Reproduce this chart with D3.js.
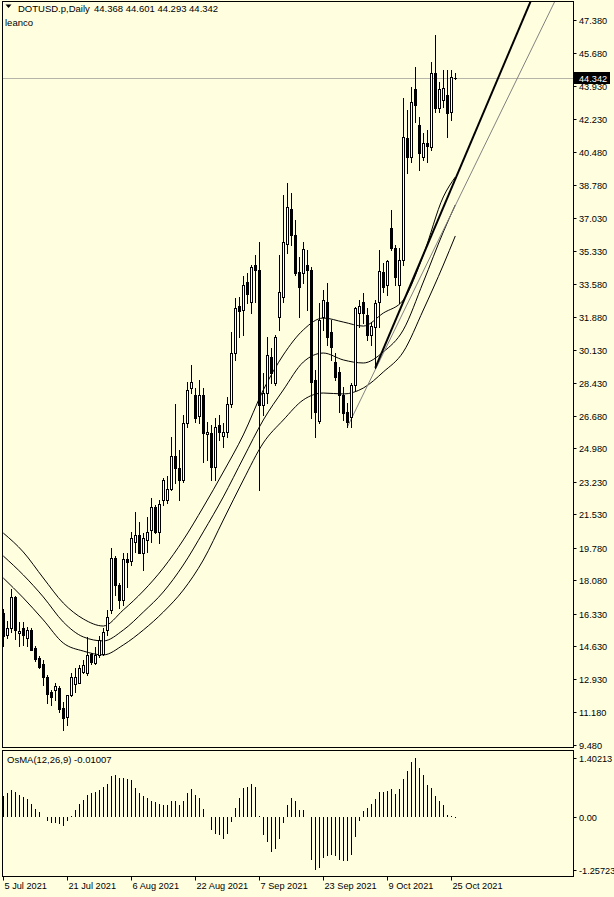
<!DOCTYPE html>
<html><head><meta charset="utf-8">
<script src="https://cdn.jsdelivr.net/npm/d3@7"></script>
<style>
html,body{margin:0;padding:0;background:#FFFFE0;}
svg{display:block;}
text{font-family:"Liberation Sans",Arial,sans-serif;fill:#000;}
</style></head><body>
<div id="chart"></div>
<script>
// ---------- DATA ----------
const title = "DOTUSD.p,Daily";
const lastQuote = "44.368 44.601 44.293 44.342";
const subTitle = "leanco";
const oscTitle = "OsMA(12,26,9) -0.01007";

const open = [16.38,15.23,15.60,17.22,15.34,15.60,15.07,15.49,14.55,14.03,
13.71,13.03,12.25,12.35,12.46,11.41,10.94,12.09,12.67,12.72,
13.30,13.24,14.24,13.77,14.19,14.24,15.49,16.54,19.26,17.85,
17.06,19.20,19.10,20.09,20.46,19.52,20.20,20.72,21.92,20.62,
22.29,22.29,22.86,24.59,23.96,23.33,26.31,28.14,27.78,26.68,
27.78,25.74,25.79,24.01,26.21,25.63,25.84,27.31,29.97,32.43,
32.22,33.68,32.64,34.57,34.31,27.25,27.88,29.76,28.40,31.85,
32.90,35.67,37.50,36.14,34.21,34.15,34.57,34.31,28.56,26.42,
31.85,32.64,31.07,29.50,28.98,27.78,26.89,26.63,28.30,32.06,
32.64,31.96,30.91,31.33,32.64,34.21,33.53,36.51,35.46,33.53,
34.83,41.21,40.22,43.77,41.89,40.22,40.95,40.74,44.61,42.78,
43.20,43.46,42.57,44.368];
const high = [16.59,15.96,17.64,17.27,15.91,15.91,15.65,15.60,14.66,14.13,
13.92,13.14,12.35,12.72,12.56,11.73,12.09,13.24,13.51,13.66,
13.92,15.13,14.29,14.60,15.18,15.60,16.54,19.78,19.36,17.95,
19.52,19.52,20.62,21.66,21.14,20.56,21.40,22.39,22.03,22.29,
23.44,23.54,25.58,27.31,24.90,26.73,28.46,29.35,28.14,28.56,
28.14,26.37,26.21,26.58,26.73,26.31,27.67,31.07,32.85,32.90,
34.00,34.15,34.57,35.10,35.78,28.93,30.81,30.23,30.91,35.10,
38.23,38.86,38.34,36.93,34.99,35.78,35.36,34.47,29.08,32.59,
33.27,33.63,31.70,29.97,29.24,28.20,27.36,28.40,32.38,32.74,
33.11,32.33,31.59,32.74,35.36,34.68,34.83,37.45,35.62,35.46,
43.30,42.68,43.88,44.92,42.31,41.47,41.63,45.19,46.60,44.14,
44.77,44.77,44.77,44.601];
const low = [14.66,15.07,15.39,15.02,14.66,14.71,14.66,14.45,13.87,13.51,
12.62,11.67,11.57,11.83,11.20,10.26,10.52,12.04,12.25,12.72,
13.24,13.14,13.71,13.71,14.08,14.19,15.23,16.38,17.32,16.64,
16.80,17.74,18.89,19.57,19.52,18.63,19.57,20.09,20.56,20.04,
22.03,22.13,22.81,23.18,22.29,23.23,26.10,27.88,26.37,26.31,
24.27,24.38,23.33,23.33,25.43,25.06,25.58,27.15,29.61,30.81,
30.91,32.59,32.06,32.64,22.81,26.73,27.36,28.40,28.30,31.18,
32.64,35.20,35.62,34.05,31.85,33.63,32.22,26.58,25.58,26.31,
31.18,30.39,29.61,28.56,26.89,26.47,26.10,26.10,28.04,31.33,
31.54,30.65,30.39,29.19,31.33,33.16,33.00,35.36,33.53,32.59,
34.57,39.38,39.96,42.05,39.54,40.05,39.96,40.58,42.57,42.57,
42.83,41.26,42.15,44.293];
const close = [15.18,15.60,17.22,15.49,15.44,15.23,15.49,14.45,13.98,13.56,
13.03,12.15,11.99,12.56,11.36,10.89,12.09,13.03,13.03,13.51,
13.66,14.19,13.82,14.19,14.97,15.39,16.17,19.26,17.85,17.06,
19.20,19.05,20.30,20.46,19.52,20.30,20.62,21.92,20.62,22.08,
23.33,22.86,24.59,23.96,23.33,26.31,28.04,28.46,26.58,27.78,
25.79,25.84,24.01,26.10,25.84,25.84,27.31,29.97,32.33,32.17,
33.53,33.06,34.47,34.31,27.25,27.88,29.87,28.93,30.81,33.16,
35.78,37.61,36.14,34.15,33.42,35.41,34.31,28.46,26.89,31.70,
32.74,30.81,30.29,28.72,27.78,26.84,26.37,28.30,32.33,32.43,
32.06,30.91,31.38,32.59,34.26,33.42,34.78,35.46,33.95,34.83,
41.26,40.22,43.09,42.94,40.43,40.95,40.79,44.61,42.78,43.77,
43.83,42.52,44.40,44.342];

const osma = [0.51,0.57,0.65,0.61,0.54,0.48,0.43,0.32,0.20,0.12,
0.01,-0.08,-0.13,-0.13,-0.17,-0.21,-0.09,0.04,0.16,0.31,
0.42,0.54,0.57,0.60,0.65,0.71,0.79,0.99,1.01,0.93,
0.93,0.91,0.89,0.69,0.57,0.51,0.46,0.38,0.36,0.31,
0.30,0.30,0.39,0.39,0.28,0.39,0.57,0.68,0.54,0.46,
0.20,0.00,-0.31,-0.39,-0.42,-0.51,-0.41,-0.12,0.22,0.46,
0.69,0.73,0.79,0.73,0.02,-0.43,-0.59,-0.83,-0.76,-0.53,
-0.15,0.28,0.46,0.38,0.18,0.16,0.01,-1.02,-1.25723,-1.20,
-0.98,-0.92,-0.90,-0.92,-1.01,-1.04,-1.04,-0.90,-0.47,-0.09,
0.14,0.22,0.32,0.44,0.60,0.61,0.63,0.67,0.56,0.68,
0.91,1.09,1.31,1.40213,1.16,1.01,0.76,0.69,0.50,0.39,
0.28,0.06,0.02,-0.01007];

// channel lines, read at these bar indices
const bandIdx   = [0,5,10,15,20,25,30,35,40,45,50,55,60,65,70,75,80,85,90,95,100,105,110,113];
const bandUpper = [20.56,19.57,18.21,16.90,16.07,15.70,16.54,17.53,18.73,20.20,21.92,23.75,25.69,28.04,29.87,31.18,31.80,31.59,31.38,32.06,32.74,35.10,38.13,39.17];
const bandMid   = [19.36,18.37,17.22,15.91,15.13,14.92,15.49,16.43,17.48,18.89,20.62,22.45,24.48,26.47,28.04,29.50,29.97,29.61,29.45,30.03,31.18,33.68,36.30,37.71];
const bandLower = [18.21,17.17,16.02,14.81,14.39,14.19,14.71,15.49,16.43,17.58,19.15,21.24,23.33,25.27,26.47,27.52,27.88,27.83,28.14,28.98,30.03,32.22,34.57,36.09];

// trend lines: [bar index, price]
const trendThick = [[93,29.19],[130,47.45]];
const trendGray  = [[86,26.10],[135,47.12]];

const priceTicks = [47.38,45.68,43.93,42.23,40.48,38.78,37.03,35.33,33.58,31.88,30.13,28.43,26.68,24.98,23.23,21.53,19.78,18.08,16.33,14.63,12.93,11.18,9.48];
const currentPrice = 44.342;
const osmaTicks = [1.40213,0,-1.25723];
const osmaTickLabels = ["1.40213","0.00","-1.25723"];
const dateTickIdx = [0,16,32,48,64,80,96,112];
const dateTickLabels = ["5 Jul 2021","21 Jul 2021","6 Aug 2021","22 Aug 2021","7 Sep 2021","23 Sep 2021","9 Oct 2021","25 Oct 2021"];

// ---------- DRAW ----------
const W = 614, H = 897;
const svg = d3.select("#chart").append("svg").attr("width", W).attr("height", H);
svg.append("rect").attr("width", W).attr("height", H).attr("fill", "#FFFFE0");

const n = open.length;
const x = d3.scaleLinear().domain([0, 113]).range([3.3, 455.3]);
const y = d3.scaleLinear().domain([9.48, 47.38]).range([745, 20]);
const yo = d3.scaleLinear().domain([-1.25723, 1.40213]).range([870, 758.3]);
const xc = i => Math.round(x(i)) + 0.5;
const px = v => Math.round(v);

const mainL = 2.5, mainR = 573.5, mainT = 1.5, mainB = 747.5;
const oscT = 750.5, oscB = 876.5;

const defs = svg.append("defs");
defs.append("clipPath").attr("id", "clipMain").append("rect")
  .attr("x", mainL + 0.5).attr("y", mainT + 0.5).attr("width", mainR - mainL - 1).attr("height", mainB - mainT - 1);
defs.append("clipPath").attr("id", "clipOsc").append("rect")
  .attr("x", mainL + 0.5).attr("y", oscT + 0.5).attr("width", mainR - mainL - 1).attr("height", oscB - oscT - 1);

const gMain = svg.append("g").attr("clip-path", "url(#clipMain)");

// current price line
gMain.append("line").attr("x1", mainL).attr("x2", mainR)
  .attr("y1", px(y(currentPrice)) + 0.5).attr("y2", px(y(currentPrice)) + 0.5)
  .attr("stroke", "#B4B4A8").attr("stroke-width", 1);

// channel curves
const bandLine = vals => d3.line().x((d, k) => x(bandIdx[k])).y(d => y(d)).curve(d3.curveMonotoneX)(vals);
[bandUpper, bandMid, bandLower].forEach(vals => {
  gMain.append("path").attr("d", bandLine(vals)).attr("fill", "none").attr("stroke", "#000").attr("stroke-width", 1);
});

// trend lines (rays)
function ray(a, b, toIdx) {
  const slope = (b[1] - a[1]) / (b[0] - a[0]);
  return [[x(a[0]), y(a[1])], [x(toIdx), y(a[1] + slope * (toIdx - a[0]))]];
}
const tg = ray(trendGray[0], trendGray[1], 150);
gMain.append("line").attr("x1", tg[0][0]).attr("y1", tg[0][1]).attr("x2", tg[1][0]).attr("y2", tg[1][1])
  .attr("stroke", "#808080").attr("stroke-width", 1);
const tt = ray(trendThick[0], trendThick[1], 150);
gMain.append("line").attr("x1", tt[0][0]).attr("y1", tt[0][1]).attr("x2", tt[1][0]).attr("y2", tt[1][1])
  .attr("stroke", "#000").attr("stroke-width", 2);

// candles
const candles = gMain.append("g");
for (let i = 0; i < n; i++) {
  const cx = xc(i);
  const yH = px(y(high[i])), yL = px(y(low[i]));
  candles.append("line").attr("x1", cx).attr("x2", cx).attr("y1", yH).attr("y2", yL + 1)
    .attr("stroke", "#000").attr("stroke-width", 1);
  const yO = px(y(open[i])), yC = px(y(close[i]));
  const top = Math.min(yO, yC), bot = Math.max(yO, yC);
  if (close[i] >= open[i]) {
    if (bot - top < 1) {
      candles.append("line").attr("x1", cx - 1.5).attr("x2", cx + 1.5).attr("y1", top + 0.5).attr("y2", top + 0.5)
        .attr("stroke", "#000");
    } else {
      candles.append("rect").attr("x", cx - 1).attr("y", top + 0.5).attr("width", 2).attr("height", bot - top)
        .attr("fill", "#FFFFFF").attr("stroke", "#000").attr("stroke-width", 1);
    }
  } else {
    candles.append("rect").attr("x", cx - 1.5).attr("y", top).attr("width", 3).attr("height", Math.max(1, bot - top + 1))
      .attr("fill", "#000");
  }
}

// frames
svg.append("rect").attr("x", mainL).attr("y", mainT).attr("width", mainR - mainL).attr("height", mainB - mainT)
  .attr("fill", "none").attr("stroke", "#000");
svg.append("rect").attr("x", mainL).attr("y", oscT).attr("width", mainR - mainL).attr("height", oscB - oscT)
  .attr("fill", "none").attr("stroke", "#000");

// price axis
const axisG = svg.append("g");
priceTicks.forEach(p => {
  const yy = px(y(p)) + 0.5;
  axisG.append("line").attr("x1", mainR).attr("x2", mainR + 3).attr("y1", yy).attr("y2", yy).attr("stroke", "#000");
  axisG.append("text").attr("x", 579).attr("y", yy + 3.5).attr("font-size", "9.2px").text(d3.format(".3f")(p));
});
// current price label
const cpY = px(y(currentPrice));
axisG.append("rect").attr("x", 574).attr("y", cpY - 6).attr("width", 36).attr("height", 12).attr("fill", "#000");
axisG.append("text").attr("x", 579).attr("y", cpY + 3.5).attr("font-size", "9.2px").style("fill", "#FFFFFF")
  .text(d3.format(".3f")(currentPrice));

// oscillator
const gOsc = svg.append("g").attr("clip-path", "url(#clipOsc)");
const y0 = px(yo(0));
osma.forEach((v, i) => {
  const yy = px(yo(v));
  if (Math.abs(yy - y0) < 1) return;
  gOsc.append("line").attr("x1", xc(i)).attr("x2", xc(i)).attr("y1", y0).attr("y2", yy)
    .attr("stroke", "#000").attr("stroke-width", 1);
});
osmaTicks.forEach((v, k) => {
  const yy = px(yo(v)) + 0.5;
  axisG.append("line").attr("x1", mainR).attr("x2", mainR + 3).attr("y1", yy).attr("y2", yy).attr("stroke", "#000");
  axisG.append("text").attr("x", 579).attr("y", yy + 3.5).attr("font-size", "9.2px").text(osmaTickLabels[k]);
});

// date axis
dateTickIdx.forEach((di, k) => {
  const xx = xc(di);
  axisG.append("line").attr("x1", xx).attr("x2", xx).attr("y1", oscB).attr("y2", oscB + 4).attr("stroke", "#000");
  axisG.append("text").attr("x", xx + 1).attr("y", 889).attr("font-size", "9.2px").text(dateTickLabels[k]);
});

// headers
svg.append("path").attr("d", "M5.5,4.5 L11.5,4.5 L8.5,8 Z").attr("fill", "#000");
svg.append("text").attr("x", 18).attr("y", 12).attr("font-size", "9.5px").text(title);
svg.append("text").attr("x", 94).attr("y", 12).attr("font-size", "9.5px").text(lastQuote);
svg.append("text").attr("x", 5).attr("y", 26).attr("font-size", "9.5px").text(subTitle);
svg.append("text").attr("x", 7).attr("y", 763).attr("font-size", "9.5px").text(oscTitle);
</script>
</body></html>
